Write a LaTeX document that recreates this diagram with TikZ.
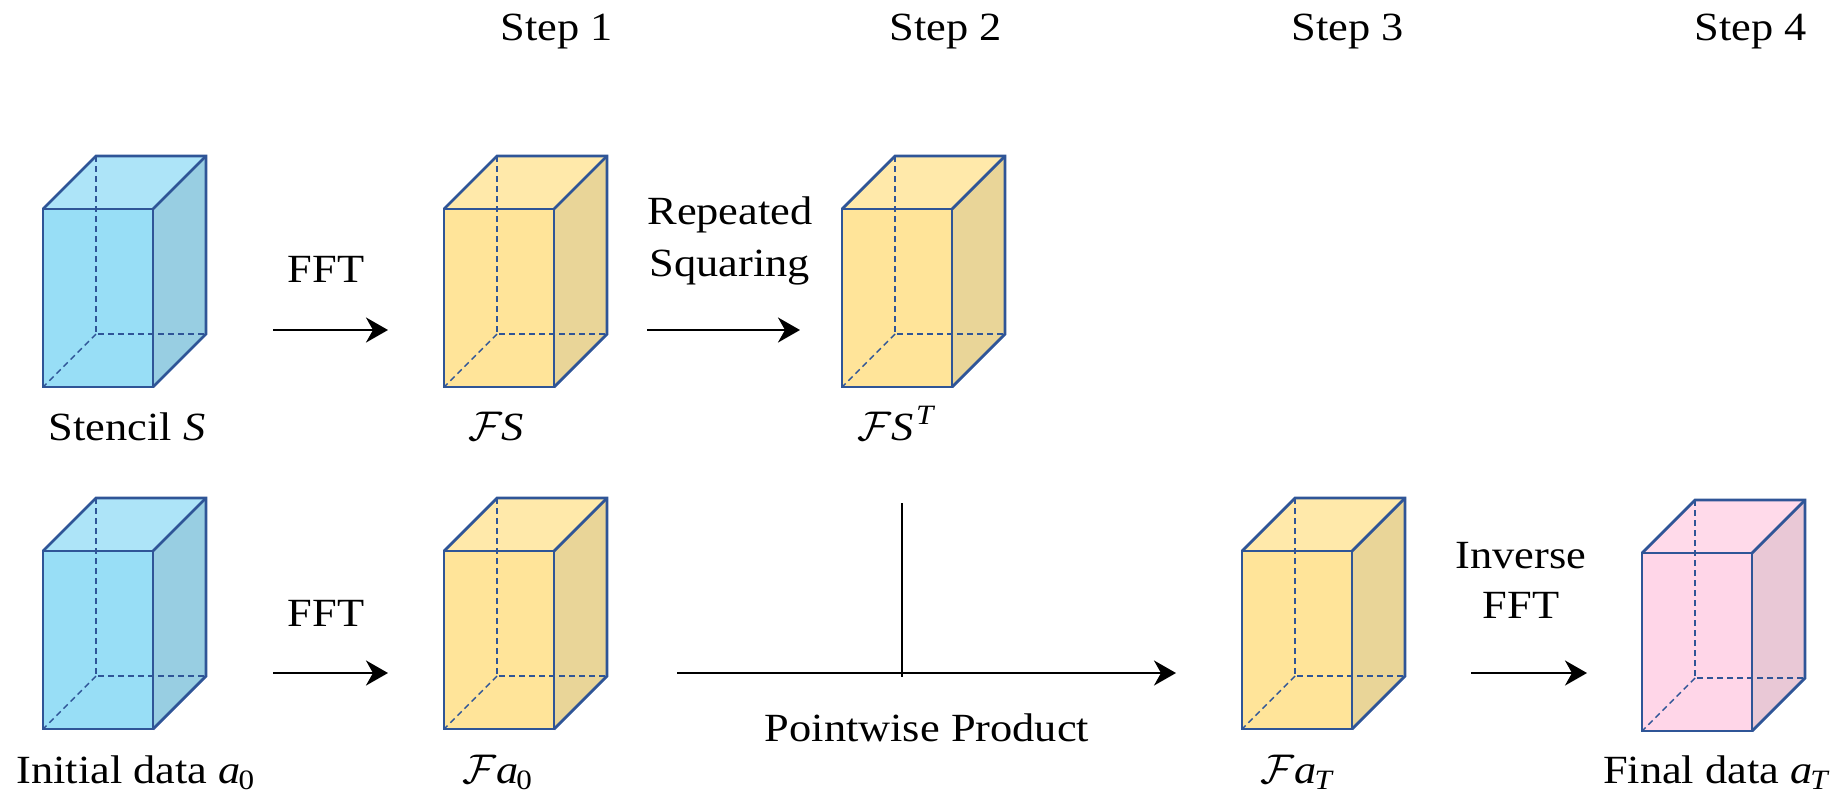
\documentclass[tikz,border=0pt]{standalone}
\usepackage{fontspec}
\setmainfont{Liberation Serif}[FakeStretch=1.11]
\usetikzlibrary{arrows.meta}

\definecolor{edge}{RGB}{47,85,151}
\definecolor{bluefront}{RGB}{152,222,246}
\definecolor{bluetop}{RGB}{173,228,248}
\definecolor{blueside}{RGB}{152,206,226}
\definecolor{goldfront}{RGB}{255,228,153}
\definecolor{goldtop}{RGB}{255,233,170}
\definecolor{goldside}{RGB}{233,213,152}
\definecolor{pinkfront}{RGB}{255,214,232}
\definecolor{pinktop}{RGB}{255,218,234}
\definecolor{pinkside}{RGB}{233,200,214}

\tikzset{
  face/.style={rectangle, anchor=north west, minimum width=55pt, minimum height=89pt,
    inner sep=0pt, outer sep=0pt},
  hidden/.style={draw=edge, line width=0.7pt, dash pattern=on 3pt off 2pt},
  edgeline/.style={draw=edge, line width=1.4pt},
  flow/.style={draw=black, line width=1.4pt, -{Stealth[length=11pt,width=12.5pt,inset=3.5pt]}},
  bar/.style={draw=black, line width=1.4pt},
  lbl/.style={anchor=base, inner sep=0pt, font=\fontsize{20pt}{26pt}\selectfont}
}

% italic variable names in the text face
\newcommand{\var}[1]{\mathit{#1}}

% A data box: #1 name, #2,#3 top-left corner of the front face, #4 colour family
\newcommand{\databox}[4]{%
  \fill[#4top] (#2,#3) -- ++(53,-53) -- ++(110,0) -- ++(-53,53) -- cycle;
  \fill[#4side] (#2+110,#3) -- ++(53,-53) -- ++(0,178) -- ++(-53,53) -- cycle;
  \node[face, fill=#4front] (#1) at (#2,#3) {};
  \draw[hidden] (#2+53,#3-53) -- ++(0,178) coordinate (#1-bbl) -- ++(110,0);
  \draw[hidden] (#1-bbl) -- (#1.south west);
  \draw[edgeline] (#1.south west) rectangle (#1.north east);
  \draw[edgeline] (#1.north west) -- ++(53,-53) -- ++(110,0) -- ++(0,178) -- (#1.south east);
  \draw[edgeline] (#1.north east) -- ++(53,-53);
}

\begin{document}
\begin{tikzpicture}[x=0.5pt, y=-0.5pt]
  \useasboundingbox (0,0) rectangle (1845,794);

  % step headings
  \node[lbl] (step1) at (557,40) {Step 1};
  \node[lbl] (step2) at (946,40) {Step 2};
  \node[lbl] (step3) at (1348,40) {Step 3};
  \node[lbl] (step4) at (1751,40) {Step 4};

  % data boxes
  \databox{stencil}{43}{209}{blue}
  \databox{fs}{444}{209}{gold}
  \databox{fst}{842}{209}{gold}
  \databox{init}{43}{551}{blue}
  \databox{fa0}{444}{551}{gold}
  \databox{fat}{1242}{551}{gold}
  \databox{final}{1642}{553}{pink}

  % box captions
  \node[lbl] (stencil-lbl) at (126,440) {Stencil $\var{S}$};
  \node[lbl] (fs-lbl) at (495,440) {$\mathcal{F}\var{S}$};
  \node[lbl] (fst-lbl) at (895,440) {$\mathcal{F}\var{S}^{\,\var{T}}$};
  \node[lbl] (init-lbl) at (135,783) {Initial data $\var{a}_{\mathrm{0}}$};
  \node[lbl] (fa0-lbl) at (497,783) {$\mathcal{F}\var{a}_{\mathrm{0}}$};
  \node[lbl] (fat-lbl) at (1296,783) {$\mathcal{F}\var{a}_{\var{T}}$};
  \node[lbl] (final-lbl) at (1715,783) {Final data $\var{a}_{\var{T}}$};

  % transforms, top row
  \coordinate (fft1-s) at (273,330);
  \coordinate (fft1-e) at (388,330);
  \draw[flow] (fft1-s) -- (fft1-e);
  \node[lbl] (fft1-lbl) at (326,282) {FFT};

  \coordinate (sq-s) at (647,330);
  \coordinate (sq-e) at (800,330);
  \draw[flow] (sq-s) -- (sq-e);
  \node[lbl] (sq-lbl1) at (730,224) {Repeated};
  \node[lbl] (sq-lbl2) at (730,276) {Squaring};

  % transforms, bottom row
  \coordinate (fft2-s) at (273,673);
  \coordinate (fft2-e) at (388,673);
  \draw[flow] (fft2-s) -- (fft2-e);
  \node[lbl] (fft2-lbl) at (326,626) {FFT};

  \coordinate (pw-s) at (677,673);
  \coordinate (pw-e) at (1176,673);
  \coordinate (pw-top) at (902,503);
  \coordinate (pw-foot) at (902,677);
  \draw[flow] (pw-s) -- (pw-e);
  \draw[bar] (pw-top) -- (pw-foot);
  \node[lbl] (pw-lbl) at (927,741) {Pointwise Product};

  \coordinate (ifft-s) at (1471,673);
  \coordinate (ifft-e) at (1587,673);
  \draw[flow] (ifft-s) -- (ifft-e);
  \node[lbl] (ifft-lbl1) at (1521,568) {Inverse};
  \node[lbl] (ifft-lbl2) at (1521,618) {FFT};
\end{tikzpicture}
\end{document}
